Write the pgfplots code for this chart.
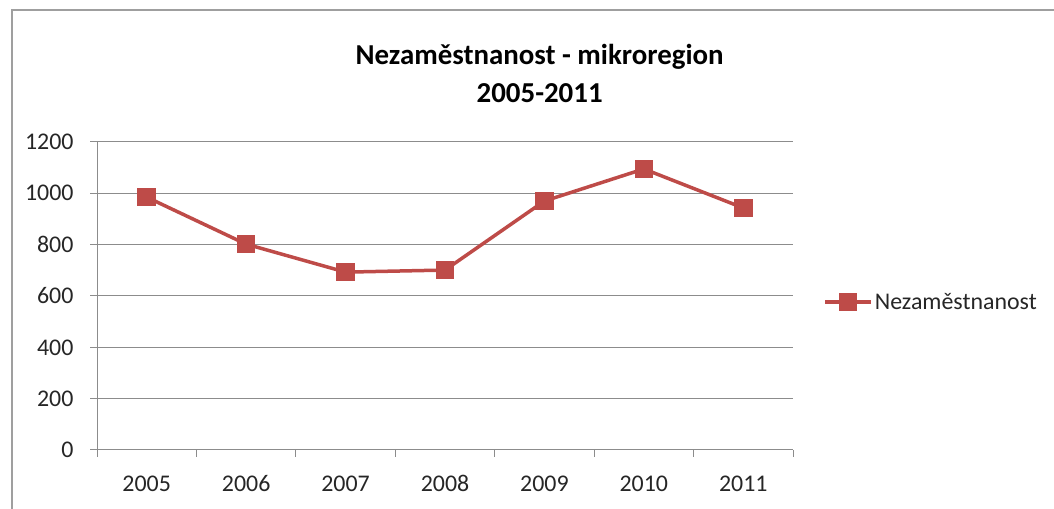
\documentclass[border=0pt]{standalone}
\usepackage{fontspec}
\setmainfont{Carlito}
\usepackage{pgfplots}
\pgfplotsset{compat=1.18}
\definecolor{serred}{HTML}{BE4B48}
\definecolor{gridgray}{HTML}{8C8C8C}
\begin{document}
\begin{tikzpicture}[x=1bp,y=1bp]
\path[use as bounding box] (0,0) rectangle (1054,509);
\draw[gray!75, line width=1.5bp] (12,0) -- (12,499) -- (1054,499);
\begin{axis}[
  at={(97bp,59bp)}, anchor=south west,
  width=696bp, height=308bp, scale only axis,
  xmin=-0.5, xmax=6.5, ymin=0, ymax=1200,
  xtick={-0.5,0.5,1.5,2.5,3.5,4.5,5.5,6.5},
  x tick label as interval,
  xticklabels={2005,2006,2007,2008,2009,2010,2011},
  ytick={0,200,...,1200},
  ymajorgrids, grid style={gridgray, line width=1bp},
  axis lines*=left, axis line style={gridgray, line width=1bp},
  tick style={gridgray, line width=1bp}, major tick length=7bp, tick align=outside,
  ticklabel style={font=\fontsize{24}{29}\selectfont, text=black!85},
  yticklabel style={xshift=-13bp},
  xticklabel style={yshift=-15bp},
  /pgf/number format/assume math mode=true,
  /pgf/number format/1000 sep={},
  title={Nezaměstnanost - mikroregion\\2005-2011},
  title style={at={(0.636,1.204)}, anchor=center, align=center, font=\fontsize{29}{38}\selectfont\bfseries},
  legend style={at={(1.039,0.48)}, anchor=west, draw=none, fill=none, font=\fontsize{24}{29}\selectfont, text=black!85},
  legend image code/.code={\draw[mark repeat=2,mark phase=2] plot coordinates {(0bp,0bp)(23bp,0bp)(46bp,0bp)};},
]
\addplot[serred, line width=3.5bp, mark=square*, mark size=7.5bp, mark options={solid}]
  coordinates {(0,985)(1,802)(2,693)(3,701)(4,970)(5,1095)(6,943)};
\addlegendentry{Nezaměstnanost}
\end{axis}
\end{tikzpicture}
\end{document}
